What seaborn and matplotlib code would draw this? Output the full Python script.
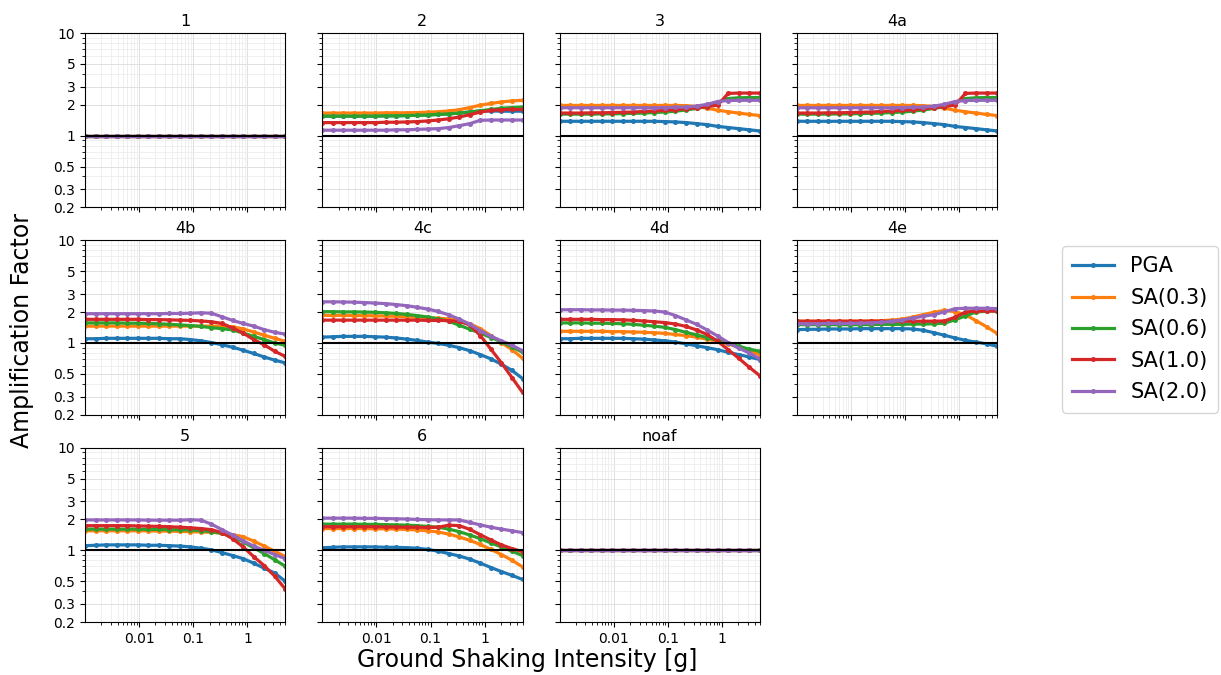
import numpy as np
import pandas as pd
import matplotlib
matplotlib.use('Agg')
import matplotlib.pyplot as plt
from matplotlib.ticker import FuncFormatter, NullFormatter
import seaborn as sns

# ground shaking intensity grid [g]
pga = [0.001, 0.001565, 0.00245, 0.003837, 0.006006, 0.009406, 0.01473, 0.02306,
       0.0361, 0.05652, 0.08849, 0.1385, 0.2169, 0.3396, 0.5317, 0.8324,
       1.303, 2.04, 3.194, 5.0]

imts = ['PGA', 'SA(0.3)', 'SA(0.6)', 'SA(1.0)', 'SA(2.0)']
zones = ['1', '2', '3', '4a', '4b', '4c', '4d', '4e', '5', '6', 'noaf']

flat = [1.0] * 20

af_1 = {'PGA': flat, 'SA(0.3)': flat, 'SA(0.6)': flat, 'SA(1.0)': flat, 'SA(2.0)': flat}

af_2 = {
    'PGA':     [1.55,1.55,1.55,1.55,1.55,1.55,1.56,1.56,1.57,1.58,1.59,1.61,1.63,1.66,1.70,1.74,1.74,1.73,1.73,1.73],
    'SA(0.3)': [1.66,1.66,1.66,1.66,1.66,1.66,1.67,1.67,1.67,1.68,1.69,1.71,1.74,1.79,1.88,1.98,2.06,2.13,2.18,2.21],
    'SA(0.6)': [1.55,1.55,1.55,1.55,1.55,1.55,1.56,1.56,1.57,1.58,1.59,1.61,1.63,1.66,1.70,1.75,1.80,1.85,1.88,1.90],
    'SA(1.0)': [1.34,1.34,1.34,1.34,1.34,1.34,1.35,1.35,1.36,1.37,1.39,1.42,1.46,1.52,1.60,1.70,1.76,1.79,1.80,1.80],
    'SA(2.0)': [1.13,1.13,1.13,1.13,1.13,1.13,1.13,1.14,1.14,1.15,1.16,1.17,1.20,1.25,1.31,1.41,1.42,1.42,1.42,1.42],
}

af_3 = {
    'PGA':     [1.38,1.38,1.38,1.38,1.38,1.38,1.38,1.38,1.38,1.38,1.37,1.36,1.34,1.31,1.28,1.23,1.20,1.17,1.14,1.11],
    'SA(0.3)': [1.97,1.97,1.97,1.97,1.97,1.97,1.97,1.97,1.97,1.97,1.97,1.97,1.96,1.93,1.85,1.77,1.71,1.66,1.61,1.57],
    'SA(0.6)': [1.62,1.62,1.62,1.62,1.63,1.63,1.64,1.65,1.66,1.68,1.70,1.73,1.78,1.84,1.92,2.12,2.30,2.34,2.35,2.35],
    'SA(1.0)': [1.66,1.66,1.66,1.67,1.67,1.68,1.69,1.70,1.72,1.74,1.76,1.79,1.83,1.87,1.92,1.98,2.58,2.60,2.60,2.60],
    'SA(2.0)': [1.87,1.87,1.87,1.87,1.87,1.87,1.87,1.87,1.87,1.87,1.88,1.89,1.90,1.94,2.02,2.15,2.20,2.21,2.21,2.21],
}

af_4a = {k: list(v) for k, v in af_3.items()}

af_4b = {
    'PGA':     [1.10,1.10,1.11,1.11,1.11,1.11,1.11,1.11,1.10,1.10,1.08,1.05,1.01,0.96,0.91,0.85,0.79,0.73,0.68,0.64],
    'SA(0.3)': [1.46,1.46,1.46,1.46,1.46,1.46,1.46,1.46,1.46,1.46,1.46,1.46,1.46,1.46,1.44,1.37,1.28,1.19,1.11,1.04],
    'SA(0.6)': [1.57,1.57,1.57,1.57,1.56,1.56,1.55,1.54,1.52,1.50,1.48,1.45,1.41,1.38,1.34,1.25,1.16,1.08,1.00,0.95],
    'SA(1.0)': [1.70,1.70,1.70,1.70,1.70,1.70,1.69,1.69,1.68,1.67,1.66,1.64,1.61,1.55,1.40,1.25,1.08,0.96,0.83,0.74],
    'SA(2.0)': [1.93,1.93,1.93,1.93,1.93,1.93,1.93,1.93,1.94,1.94,1.95,1.97,1.95,1.80,1.66,1.55,1.46,1.35,1.27,1.22],
}

af_4c = {
    'PGA':     [1.14,1.15,1.16,1.16,1.16,1.15,1.14,1.12,1.09,1.06,1.02,0.99,0.95,0.90,0.84,0.77,0.70,0.62,0.54,0.45],
    'SA(0.3)': [1.86,1.86,1.86,1.85,1.85,1.84,1.83,1.82,1.80,1.78,1.76,1.74,1.72,1.66,1.54,1.38,1.18,1.01,0.86,0.71],
    'SA(0.6)': [2.02,2.02,2.01,2.01,2.00,1.99,1.97,1.94,1.90,1.85,1.79,1.72,1.63,1.49,1.36,1.25,1.13,1.03,0.92,0.81],
    'SA(1.0)': [1.67,1.67,1.67,1.67,1.67,1.67,1.67,1.67,1.67,1.67,1.66,1.66,1.65,1.62,1.50,1.18,0.87,0.64,0.46,0.33],
    'SA(2.0)': [2.52,2.52,2.51,2.50,2.48,2.45,2.42,2.37,2.31,2.23,2.14,2.03,1.88,1.71,1.52,1.32,1.16,1.05,0.95,0.84],
}

af_4d = {
    'PGA':     [1.10,1.10,1.11,1.11,1.11,1.11,1.11,1.10,1.09,1.07,1.05,1.02,0.98,0.94,0.90,0.86,0.81,0.77,0.73,0.69],
    'SA(0.3)': [1.30,1.30,1.30,1.30,1.30,1.29,1.29,1.28,1.27,1.26,1.24,1.21,1.18,1.14,1.09,1.04,0.98,0.91,0.84,0.77],
    'SA(0.6)': [1.57,1.57,1.57,1.56,1.56,1.55,1.54,1.52,1.49,1.46,1.42,1.35,1.27,1.20,1.13,1.06,0.99,0.93,0.87,0.83],
    'SA(1.0)': [1.70,1.70,1.70,1.70,1.69,1.69,1.68,1.66,1.64,1.61,1.58,1.53,1.45,1.34,1.21,1.04,0.86,0.71,0.58,0.48],
    'SA(2.0)': [2.11,2.11,2.11,2.10,2.10,2.09,2.09,2.08,2.07,2.05,2.00,1.85,1.68,1.52,1.34,1.17,1.01,0.89,0.80,0.70],
}

af_4e = {
    'PGA':     [1.35,1.36,1.36,1.37,1.37,1.37,1.38,1.38,1.38,1.38,1.38,1.37,1.33,1.26,1.19,1.12,1.06,1.02,0.98,0.93],
    'SA(0.3)': [1.63,1.63,1.63,1.63,1.63,1.63,1.63,1.64,1.65,1.67,1.71,1.79,1.89,1.99,2.08,2.02,1.88,1.65,1.44,1.24],
    'SA(0.6)': [1.51,1.51,1.51,1.51,1.51,1.51,1.51,1.51,1.52,1.52,1.52,1.53,1.53,1.54,1.56,1.68,1.84,2.00,2.04,2.05],
    'SA(1.0)': [1.63,1.63,1.63,1.63,1.63,1.63,1.63,1.63,1.63,1.63,1.63,1.63,1.63,1.63,1.64,1.78,2.00,2.05,2.05,2.05],
    'SA(2.0)': [1.54,1.54,1.54,1.55,1.55,1.55,1.56,1.57,1.59,1.62,1.68,1.75,1.82,1.89,2.01,2.16,2.18,2.18,2.18,2.16],
}

af_5 = {
    'PGA':     [1.11,1.12,1.13,1.13,1.13,1.13,1.12,1.12,1.11,1.10,1.08,1.05,1.01,0.95,0.89,0.83,0.75,0.67,0.60,0.50],
    'SA(0.3)': [1.55,1.55,1.55,1.55,1.55,1.55,1.55,1.54,1.54,1.53,1.52,1.51,1.50,1.47,1.42,1.36,1.23,1.10,0.98,0.87],
    'SA(0.6)': [1.61,1.61,1.61,1.61,1.61,1.61,1.60,1.60,1.59,1.59,1.58,1.56,1.52,1.46,1.35,1.21,1.06,0.93,0.81,0.70],
    'SA(1.0)': [1.74,1.74,1.74,1.74,1.74,1.73,1.72,1.71,1.70,1.68,1.66,1.63,1.59,1.49,1.30,1.08,0.87,0.71,0.56,0.42],
    'SA(2.0)': [1.98,1.98,1.98,1.98,1.98,1.98,1.97,1.97,1.97,1.97,1.99,1.97,1.80,1.59,1.41,1.24,1.10,1.00,0.91,0.83],
}

af_6 = {
    'PGA':     [1.06,1.07,1.08,1.08,1.08,1.08,1.07,1.07,1.06,1.05,1.02,0.98,0.93,0.88,0.82,0.75,0.68,0.62,0.57,0.52],
    'SA(0.3)': [1.63,1.63,1.63,1.63,1.63,1.62,1.62,1.61,1.60,1.58,1.55,1.51,1.44,1.35,1.25,1.14,1.02,0.91,0.80,0.69],
    'SA(0.6)': [1.80,1.80,1.80,1.80,1.79,1.79,1.78,1.77,1.76,1.74,1.71,1.68,1.61,1.52,1.41,1.30,1.18,1.08,0.98,0.89],
    'SA(1.0)': [1.70,1.70,1.70,1.70,1.70,1.70,1.69,1.69,1.68,1.68,1.67,1.68,1.76,1.74,1.60,1.42,1.26,1.13,1.04,0.97],
    'SA(2.0)': [2.06,2.06,2.06,2.06,2.05,2.05,2.04,2.03,2.02,2.00,1.99,1.98,1.98,1.98,1.87,1.77,1.68,1.61,1.55,1.49],
}

af_noaf = {'PGA': flat, 'SA(0.3)': flat, 'SA(0.6)': flat, 'SA(1.0)': flat, 'SA(2.0)': flat}

panels = [af_1, af_2, af_3, af_4a, af_4b, af_4c, af_4d, af_4e, af_5, af_6, af_noaf]


def to_long(af):
    rows = []
    for imt in imts:
        for x, y in zip(pga, af[imt]):
            rows.append((x, y, imt))
    return pd.DataFrame(rows, columns=['pga', 'af', 'imt'])


fig, axes = plt.subplots(3, 4, figsize=(12.21, 6.75), dpi=100, sharex=True, sharey=True)
plt.subplots_adjust(left=0.0696, right=0.8166, top=0.951, bottom=0.0785, wspace=0.185, hspace=0.19)

palette = sns.color_palette('tab10', 5)
ylab = FuncFormatter(lambda v, p: '%g' % v)

for i, ax in enumerate(axes.flat):
    if i >= len(zones):
        ax.remove()
        continue
    df = to_long(panels[i])
    ax.set_xscale('log')
    ax.set_yscale('log')
    sns.lineplot(data=df, x='pga', y='af', hue='imt', hue_order=imts, palette=palette,
                 marker='o', markersize=3.6, markeredgewidth=0, linewidth=2.3,
                 legend=(i == 0), ax=ax)
    ax.axhline(1, color='black', linewidth=1.5)
    ax.set_xlim(0.001, 5)
    ax.set_ylim(0.2, 10)
    ax.set_title(zones[i], fontsize=11.5, pad=5)
    ax.set_xlabel('')
    ax.set_ylabel('')
    ax.set_yticks([0.2, 0.3, 0.5, 1, 2, 3, 5, 10])
    ax.yaxis.set_major_formatter(ylab)
    ax.yaxis.set_minor_formatter(NullFormatter())
    ax.set_xticks([0.01, 0.1, 1])
    ax.set_xticklabels(['0.01', '0.1', '1'])
    ax.xaxis.set_minor_formatter(NullFormatter())
    ax.tick_params(labelsize=10)
    ax.grid(True, which='major', color='#e0e0e0', linewidth=0.7)
    ax.grid(True, which='minor', color='#ececec', linewidth=0.6)
    ax.set_axisbelow(True)

handles, labels = axes[0, 0].get_legend_handles_labels()
axes[0, 0].get_legend().remove()
fig.legend(handles, labels, loc='upper left', bbox_to_anchor=(0.8695, 0.6356), fontsize=15,
           frameon=True, borderpad=0.5, labelspacing=0.55, borderaxespad=0)

fig.text(0.432, 0.022, 'Ground Shaking Intensity [g]', ha='center', va='center', fontsize=17)
fig.text(0.018, 0.51, 'Amplification Factor', ha='center', va='center', rotation=90, fontsize=17)

plt.savefig('out.png', dpi=100)
